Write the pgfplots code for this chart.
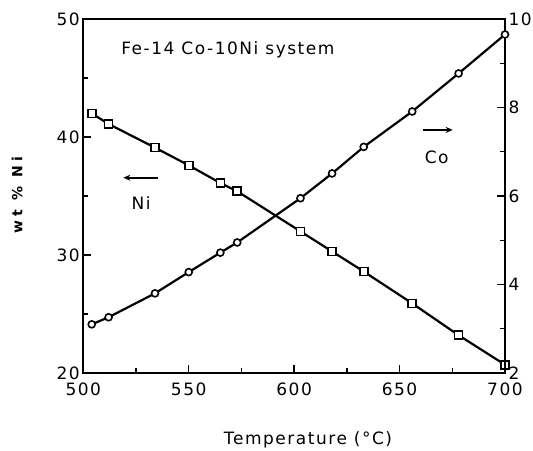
\documentclass[border=0pt]{standalone}
\usepackage{pgfplots}
\pgfplotsset{compat=1.18}
\usepackage{fontspec}
\setmainfont[LetterSpace=9]{DejaVu Sans}
\newfontfamily\ylabfont[LetterSpace=30]{DejaVu Sans}
\usetikzlibrary{arrows.meta}
\begin{document}
\begin{tikzpicture}[font=\fontsize{17}{20}\selectfont]
\pgfplotsset{
  common/.style={
    scale only axis, width=421.7pt, height=354pt,
    xmin=500, xmax=700,
    tick align=inside,
    major tick length=8pt, minor tick length=5pt,
    axis line style={line width=1.6pt},
    every tick/.style={black, line width=1.4pt},
    /pgf/number format/assume math mode=true,
    clip=false,
  }
}
\begin{axis}[common,
  ymin=20, ymax=50,
  xtick={500,550,...,700}, minor xtick={525,575,625,675},
  ytick={20,30,40,50}, minor ytick={25,35,45},
  xtick pos=bottom, ytick pos=left,
  xticklabel style={yshift=-6pt},
  xlabel={Temperature (°C)},
  ylabel={\ylabfont\fontsize{14}{16}\selectfont\bfseries wt \% Ni},
  xlabel style={at={(axis description cs:0.533,0)}, anchor=center, yshift=-67pt},
  ylabel style={at={(axis description cs:-0.157,0.503)}, anchor=center},
]
\addplot[black, line width=2.2pt, mark=square*, mark size=4pt,
  mark options={fill=white, line width=1.6pt, solid}] table {
x y
504 42.0
512 41.1
534 39.1
550 37.6
565 36.1
573 35.4
603 32.0
618 30.3
633 28.6
656 25.9
678 23.2
700 20.7
};
\node at (axis cs:568.6,47.4) {Fe-14 Co-10Ni system};
\draw[line width=1.8pt, -{Stealth[length=7pt,width=6pt]}] (axis cs:535.2,36.55) -- (axis cs:519,36.55);
\node at (axis cs:527.4,34.4) {Ni};
\draw[line width=1.8pt, -{Stealth[length=7pt,width=6pt]}] (axis cs:661.3,40.6) -- (axis cs:675.2,40.6);
\node at (axis cs:667.6,38.3) {Co};
\end{axis}
\begin{axis}[common,
  ymin=2, ymax=10,
  axis x line=none, axis y line*=right,
  ytick={2,4,...,10}, minor ytick={3,5,7,9},
]
\addplot[black, line width=2.2pt, mark=*, mark size=3.5pt,
  mark options={fill=white, line width=1.6pt, solid}] table {
x y
504 3.10
512 3.26
534 3.80
550 4.28
565 4.72
573 4.95
603 5.95
618 6.51
633 7.11
656 7.91
678 8.77
700 9.65
};
\end{axis}
\pgfresetboundingbox
\path (-83.3pt,-77pt) rectangle (449.7pt,373pt);
\end{tikzpicture}
\end{document}
